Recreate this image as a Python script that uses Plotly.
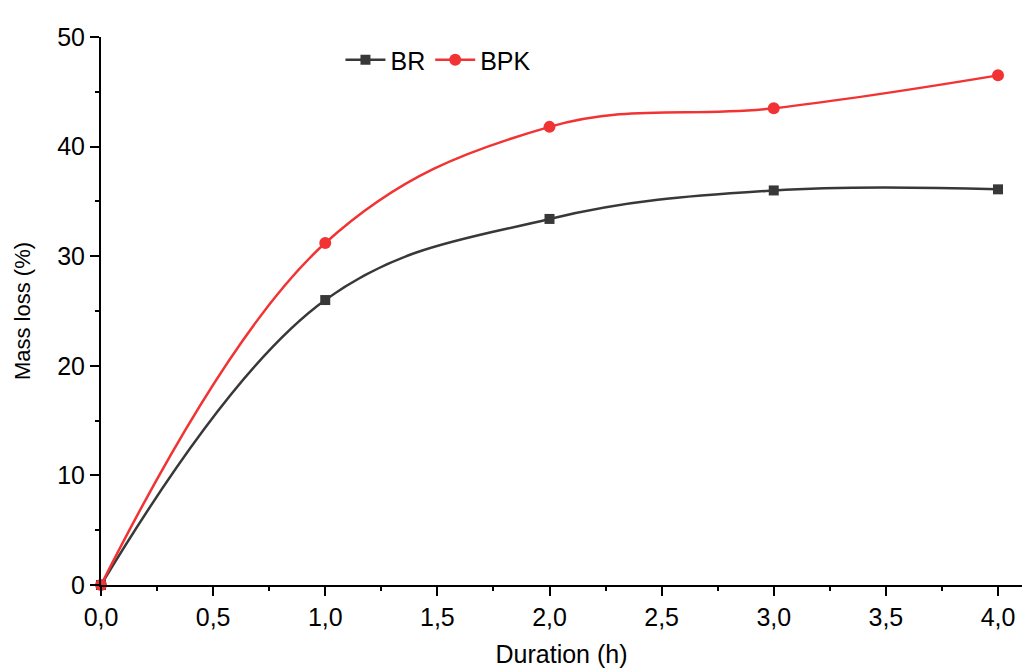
import plotly.graph_objects as go

duration = [0.0, 1.0, 2.0, 3.0, 4.0]
br = [0.0, 26.0, 33.4, 36.0, 36.1]
bpk = [0.0, 31.2, 41.8, 43.5, 46.5]
x_ticks = [0.0, 0.5, 1.0, 1.5, 2.0, 2.5, 3.0, 3.5, 4.0]
y_ticks = [0, 10, 20, 30, 40, 50]

font = "Liberation Sans, Arial, sans-serif"

fig = go.Figure()
fig.add_trace(go.Scatter(
    x=duration, y=br, name="BR", mode="lines+markers",
    line=dict(color="#383838", width=2.5, shape="spline", smoothing=1.1),
    marker=dict(symbol="square", size=10, color="#383838"),
    cliponaxis=False,
))
fig.add_trace(go.Scatter(
    x=duration, y=bpk, name="BPK", mode="lines+markers",
    line=dict(color="#f23333", width=2.5, shape="spline", smoothing=1.1),
    marker=dict(symbol="circle", size=12, color="#f23333"),
    cliponaxis=False,
))

fig.update_layout(
    width=1033, height=668,
    margin=dict(l=101, r=11, t=37, b=83),
    paper_bgcolor="white", plot_bgcolor="white",
    separators=",.",
    font=dict(family=font, size=24, color="black"),
    showlegend=True,
    legend=dict(orientation="h", x=0.26, y=0.958, xanchor="left", yanchor="middle",
                font=dict(size=25), bgcolor="rgba(0,0,0,0)", itemwidth=40,
                tracegroupgap=0),
)
fig.update_xaxes(
    range=[0, 4.107], tickvals=x_ticks, tickformat=".1f",
    showline=True, linecolor="black", linewidth=2,
    ticks="outside", ticklen=9, tickwidth=2, tickcolor="black",
    minor=dict(ticks="outside", ticklen=4, tickwidth=2, tickcolor="black", dtick=0.25),
    showgrid=False, zeroline=False, automargin=False,
    title=dict(text="Duration (h)", font=dict(size=25), standoff=15),
    tickfont=dict(size=25),
)
fig.update_yaxes(
    range=[0, 50], tickvals=y_ticks,
    showline=True, linecolor="black", linewidth=2,
    ticks="outside", ticklen=9, tickwidth=2, tickcolor="black",
    minor=dict(ticks="outside", ticklen=4, tickwidth=2, tickcolor="black", dtick=5),
    showgrid=False, zeroline=False, automargin=False,
    title=dict(text="Mass loss (%)", font=dict(size=22), standoff=20),
    tickfont=dict(size=25),
)

fig.write_html("out.html")
